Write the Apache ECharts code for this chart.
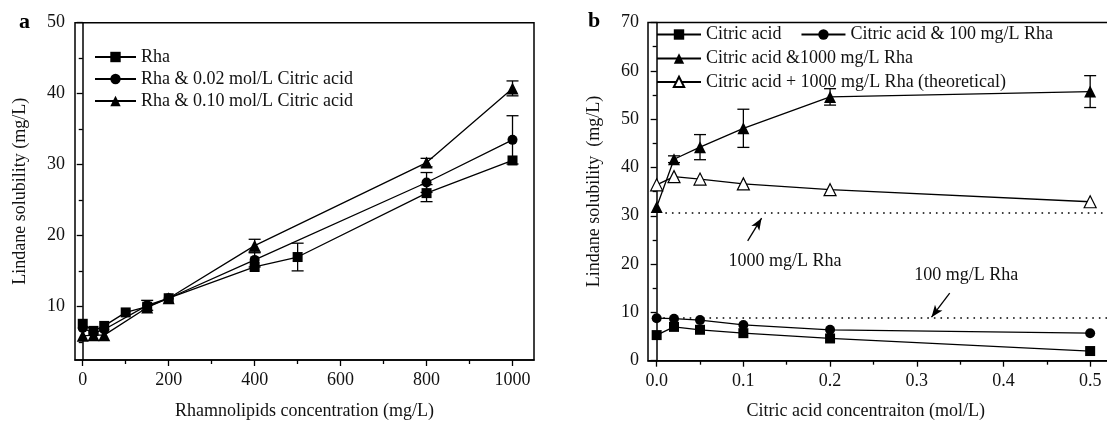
<!DOCTYPE html>
<html>
<head>
<meta charset="utf-8">
<script src="https://cdn.jsdelivr.net/npm/echarts@6/dist/echarts.min.js"></script>
<style>
html, body { margin: 0; padding: 0; background: #fff; }
#id-div-chart { width: 1107px; height: 423px; }
</style>
</head>
<body>
<div id="id-div-chart"></div>
<script>
var log = console.log.bind(console)

var e = (selector) => document.querySelector(selector)

// 图 a：鼠李糖脂浓度
var aRhaX = [0, 25, 50, 100, 150, 200, 400, 500, 800, 1000]
var aRhaY = [7.6, 6.6, 7.3, 9.2, 10.0, 11.2, 15.6, 17.0, 26.0, 30.6]
var aRhaErr = [0, 0, 0, 0, 0, 0, 0, 1.95, 1.2, 0]

var aCit002X = [0, 25, 50, 150, 200, 400, 800, 1000]
var aCit002Y = [7.0, 6.3, 6.8, 10.2, 11.2, 16.6, 27.5, 33.5]
var aCit002Err = [0, 0, 0, 0.7, 0, 1.0, 1.4, 3.4]

var aCit010X = [0, 25, 50, 150, 200, 400, 800, 1000]
var aCit010Y = [5.9, 6.0, 6.0, 9.9, 11.2, 18.6, 30.3, 40.75]
var aCit010Err = [0, 0, 0, 0, 0, 0.9, 0.6, 1.05]

var aNames = ['Rha', 'Rha & 0.02 mol/L Citric acid', 'Rha & 0.10 mol/L Citric acid']
var aXTicks = [0, 200, 400, 600, 800, 1000]
var aXMinor = [100, 300, 500, 700, 900]
var aYTicks = [10, 20, 30, 40, 50]
var aYMinor = [5, 15, 25, 35, 45]

// 图 b：柠檬酸浓度
var bX = [0, 0.02, 0.05, 0.1, 0.2, 0.5]
var bCitY = [5.3, 7.0, 6.4, 5.7, 4.6, 2.0]
var bRha100Y = [8.8, 8.7, 8.4, 7.4, 6.4, 5.7]
var bRha1000Y = [31.8, 41.7, 44.2, 48.1, 54.6, 55.7]
var bRha1000Err = [0, 0.7, 2.6, 3.95, 1.7, 3.3]
var bTheoryY = [36.4, 38.1, 37.6, 36.6, 35.4, 32.9]

var bNames = [
    'Citric acid',
    'Citric acid & 100 mg/L Rha',
    'Citric acid &1000 mg/L Rha',
    'Citric acid + 1000 mg/L Rha (theoretical)',
]
var bXTicks = [0, 0.1, 0.2, 0.3, 0.4, 0.5]
var bXMinor = [0.05, 0.15, 0.25, 0.35, 0.45, 0.55]
// 只加鼠李糖时的溶解度（虚线）
var bRefLines = [30.7, 8.9]
var bNotes = ['1000 mg/L Rha', '100 mg/L Rha']
var bNoteAt = [[0.148, 20.6], [0.357, 17.7]]
var bArrows = [[[0.105, 24.8], [0.121, 29.5]], [[0.338, 14.0], [0.317, 9.0]]]

var font = 'Liberation Serif'
var ink = '#111'

var zip = function(xs, ys) {
    return xs.map((x, i) => [x, ys[i]])
}

var errorRows = function(xs, ys, errs) {
    var rows = []
    for (var i = 0; i < xs.length; i++) {
        if (errs[i] > 0) {
            rows.push([xs[i], ys[i] - errs[i], ys[i] + errs[i]])
        }
    }
    return rows
}

var errorBarItem = function(params, api) {
    var x = api.value(0)
    var low = api.coord([x, api.value(1)])
    var high = api.coord([x, api.value(2)])
    var w = 6
    var style = {stroke: '#000', lineWidth: 1.3}
    return {
        type: 'group',
        children: [
            {type: 'line', shape: {x1: low[0], y1: low[1], x2: high[0], y2: high[1]}, style: style},
            {type: 'line', shape: {x1: low[0] - w, y1: low[1], x2: low[0] + w, y2: low[1]}, style: style},
            {type: 'line', shape: {x1: high[0] - w, y1: high[1], x2: high[0] + w, y2: high[1]}, style: style},
        ],
    }
}

// 主刻度轴（带标签）
var majorAxis = function(grid, min, max, ticks, fmt, margin) {
    return {
        type: 'value',
        gridIndex: grid,
        min: min,
        max: max,
        axisLine: {show: true, lineStyle: {color: '#000', width: 1.5}},
        axisTick: {show: true, customValues: ticks, length: 6, lineStyle: {color: '#000', width: 1.3}},
        axisLabel: {
            customValues: ticks,
            color: ink,
            fontFamily: font,
            fontSize: 18,
            margin: margin,
            formatter: fmt,
        },
        splitLine: {show: false},
    }
}

// 次刻度轴（只画短刻度）
var minorAxis = function(grid, min, max, ticks, position) {
    return {
        type: 'value',
        gridIndex: grid,
        position: position,
        min: min,
        max: max,
        axisLine: {show: false},
        axisTick: {show: true, customValues: ticks, length: 4, lineStyle: {color: '#000', width: 1.3}},
        axisLabel: {show: false},
        splitLine: {show: false},
    }
}

var lineSeries = function(name, x, y, data, symbol, size, hollow) {
    return {
        name: name,
        type: 'line',
        xAxisIndex: x,
        yAxisIndex: y,
        data: data,
        symbol: symbol,
        symbolSize: size,
        showAllSymbol: true,
        lineStyle: {color: '#000', width: 1.3},
        itemStyle: hollow
            ? {color: '#fff', borderColor: '#000', borderWidth: 1.2}
            : {color: '#000', borderColor: '#000', borderWidth: 0},
        z: 3,
    }
}

var nameStyle = {color: ink, fontFamily: font, fontSize: 18}
var legendText = {color: ink, fontFamily: font, fontSize: 18}

var configuredChart = function() {
    var element = e('#id-div-chart')
    var chart = echarts.init(element, null, {renderer: 'canvas'})
    return chart
}

var formattedOption = function() {
    var axA = majorAxis(0, -18, 1050, aXTicks, (v) => String(v), 11)
    axA.name = 'Rhamnolipids concentration (mg/L)'
    axA.nameLocation = 'middle'
    axA.nameGap = 42
    axA.nameTextStyle = nameStyle

    var ayA = majorAxis(0, 2.5, 50, aYTicks, (v) => String(v), 10)
    ayA.name = 'Lindane solubility (mg/L)'
    ayA.nameLocation = 'middle'
    ayA.nameGap = 46
    ayA.nameTextStyle = nameStyle

    var axB = majorAxis(1, -0.01, 0.55, bXTicks, (v) => v.toFixed(1), 12)
    axB.name = 'Citric acid concentraiton (mol/L)'
    axB.nameLocation = 'middle'
    axB.nameGap = 42
    axB.nameTextStyle = Object.assign({padding: [0, 50, 0, 0]}, nameStyle)

    var ayB = {
        type: 'value',
        gridIndex: 1,
        min: 0,
        max: 70,
        interval: 10,
        name: 'Lindane solubility  (mg/L)',
        nameLocation: 'middle',
        nameGap: 45,
        nameTextStyle: nameStyle,
        axisLine: {show: true, lineStyle: {color: '#000', width: 1.5}},
        axisTick: {show: true, length: 6, lineStyle: {color: '#000', width: 1.3}},
        minorTick: {show: true, splitNumber: 2, length: 4, lineStyle: {color: '#000', width: 1.3}},
        axisLabel: {color: ink, fontFamily: font, fontSize: 18, margin: 9},
        splitLine: {show: false},
    }

    var refData = bRefLines.map((v, i) => [
        {coord: [i === 0 ? 0.01 : 0, v]},
        {coord: [0.55, v]},
    ])
    var arrowData = bArrows.map((a) => [{coord: a[0]}, {coord: a[1]}])
    var noteData = bNotes.map((t, i) => ({name: t, coord: bNoteAt[i]}))

    var bErrRows = errorRows(bX, bRha1000Y, bRha1000Err)
    var aErrRows = []
        .concat(errorRows(aRhaX, aRhaY, aRhaErr))
        .concat(errorRows(aCit002X, aCit002Y, aCit002Err))
        .concat(errorRows(aCit010X, aCit010Y, aCit010Err))

    var theory = lineSeries(bNames[3], 2, 2, zip(bX, bTheoryY), 'triangle', 12, true)
    theory.markLine = {
        silent: true,
        symbol: ['none', 'none'],
        label: {show: false},
        lineStyle: {color: '#000', width: 1.6, type: [1.6, 5]},
        data: refData,
    }

    var rha1000 = lineSeries(bNames[2], 2, 2, zip(bX, bRha1000Y), 'triangle', 12, false)
    rha1000.markLine = {
        silent: true,
        symbol: ['none', 'arrow'],
        symbolSize: [7, 12],
        label: {show: false},
        lineStyle: {color: '#000', width: 1.3, type: 'solid'},
        data: arrowData,
    }
    rha1000.markPoint = {
        silent: true,
        symbol: 'rect',
        symbolSize: 1,
        itemStyle: {color: 'rgba(0,0,0,0)'},
        label: {
            show: true,
            position: 'inside',
            formatter: '{b}',
            color: ink,
            fontFamily: font,
            fontSize: 18,
        },
        data: noteData,
    }

    var option = {
        animation: false,
        backgroundColor: '#fff',
        textStyle: {fontFamily: font},
        title: [
            {text: 'a', left: 14, top: 6, textStyle: {fontFamily: font, fontSize: 22, fontWeight: 'bold', color: '#000'}},
            {text: 'b', left: 583, top: 5, textStyle: {fontFamily: font, fontSize: 22, fontWeight: 'bold', color: '#000'}},
        ],
        grid: [
            {left: 75, top: 22.7, width: 459, height: 337.3, outerBoundsMode: 'none', show: true, borderColor: '#000', borderWidth: 1.5, backgroundColor: 'transparent'},
            {left: 648, top: 22.5, width: 485.5, height: 338.2, outerBoundsMode: 'none', show: true, borderColor: '#000', borderWidth: 1.5, backgroundColor: 'transparent'},
        ],
        xAxis: [
            axA,
            minorAxis(0, -18, 1050, aXMinor, 'bottom'),
            axB,
            minorAxis(1, -0.01, 0.55, bXMinor, 'bottom'),
        ],
        yAxis: [
            ayA,
            minorAxis(0, 2.5, 50, aYMinor, 'left'),
            ayB,
        ],
        legend: [
            {
                left: 94, top: 48, orient: 'vertical', padding: 0,
                itemWidth: 41, itemHeight: 13, itemGap: 4,
                textStyle: legendText, selectedMode: false,
                data: aNames,
            },
            {
                left: 656, top: 25.5, orient: 'horizontal', padding: 0,
                itemWidth: 44, itemHeight: 13, itemGap: 19,
                textStyle: legendText, selectedMode: false,
                data: [bNames[0], bNames[1]],
            },
            {
                left: 656, top: 49.5, orient: 'vertical', padding: 0,
                itemWidth: 44, itemHeight: 13, itemGap: 5.4,
                textStyle: legendText, selectedMode: false,
                data: [bNames[2], bNames[3]],
            },
        ],
        series: [
            {
                type: 'custom',
                xAxisIndex: 0,
                yAxisIndex: 0,
                renderItem: errorBarItem,
                encode: {x: 0, y: [1, 2]},
                data: aErrRows,
                z: 2,
                silent: true,
            },
            lineSeries(aNames[0], 0, 0, zip(aRhaX, aRhaY), 'rect', 10, false),
            lineSeries(aNames[1], 0, 0, zip(aCit002X, aCit002Y), 'circle', 10, false),
            lineSeries(aNames[2], 0, 0, zip(aCit010X, aCit010Y), 'triangle', 12, false),
            {
                type: 'custom',
                xAxisIndex: 2,
                yAxisIndex: 2,
                renderItem: errorBarItem,
                encode: {x: 0, y: [1, 2]},
                data: bErrRows,
                z: 2,
                silent: true,
            },
            lineSeries(bNames[0], 2, 2, zip(bX, bCitY), 'rect', 10, false),
            lineSeries(bNames[1], 2, 2, zip(bX, bRha100Y), 'circle', 10, false),
            rha1000,
            theory,
        ],
    }
    return option
}

var __main = function() {
    var chart = configuredChart()
    chart.setOption(formattedOption())
}

__main()
</script>
</body>
</html>
